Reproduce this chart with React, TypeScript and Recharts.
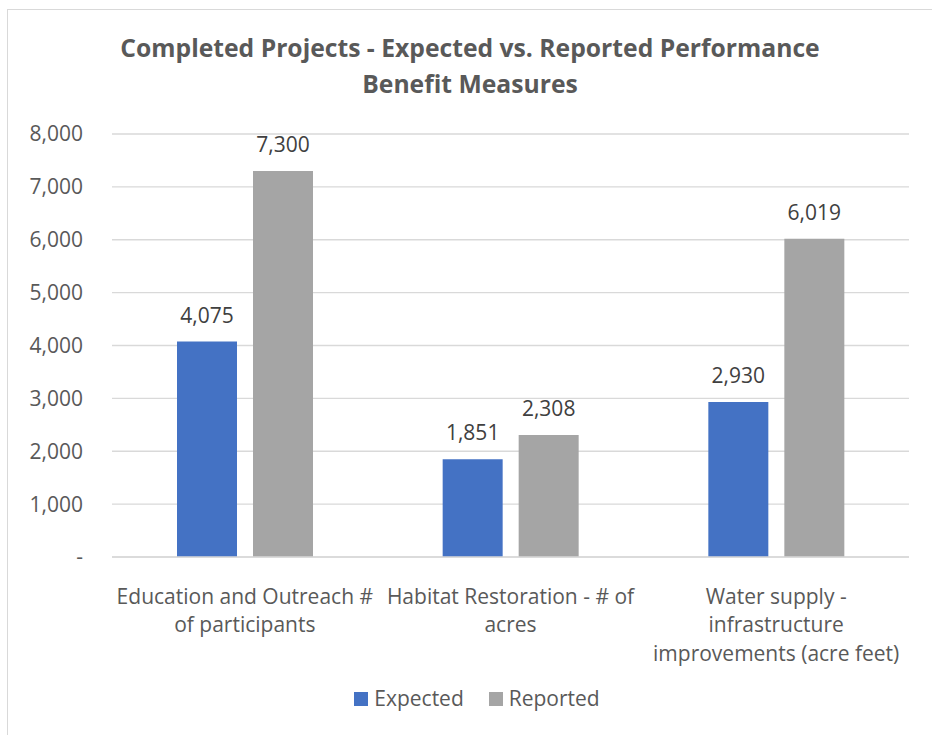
import React from "react";
import { Bar, BarChart, CartesianGrid, LabelList, Legend, XAxis, YAxis } from "recharts";

const categories = [
  "Education and Outreach #\nof participants",
  "Habitat Restoration - # of\nacres",
  "Water supply -\ninfrastructure\nimprovements (acre feet)",
];
const expected = [4075, 1851, 2930];
const reported = [7300, 2308, 6019];
const yTicks = [0, 1000, 2000, 3000, 4000, 5000, 6000, 7000, 8000];

const data = categories.map((name, i) => ({ name, expected: expected[i], reported: reported[i] }));

const FONT = "'Open Sans', 'Noto Sans', sans-serif";
const fmt = (v: number) => (v === 0 ? "-" : v.toLocaleString("en-US"));

function CategoryTick(props: any) {
  const { x, y, payload } = props;
  const lines = String(payload.value).split("\n");
  return (
    <g>
      {lines.map((line: string, i: number) => (
        <text key={i} x={x} y={y + 39 + i * 28.3} textAnchor="middle" fill="#595959" fontSize={21} fontFamily={FONT}>
          {line}
        </text>
      ))}
    </g>
  );
}

function LegendBox() {
  const items = [
    { label: "Expected", color: "#4472C4" },
    { label: "Reported", color: "#A5A5A5" },
  ];
  return (
    <div style={{ display: "flex", justifyContent: "center", gap: 25, fontFamily: FONT, fontSize: 21, color: "#595959", paddingLeft: 22 }}>
      {items.map((it) => (
        <div key={it.label} style={{ display: "flex", alignItems: "center", gap: 6 }}>
          <span style={{ width: 14, height: 14, marginTop: 2, background: it.color, display: "inline-block" }} />
          <span>{it.label}</span>
        </div>
      ))}
    </div>
  );
}

export default function App() {
  return (
    <div style={{ position: "absolute", left: 0, top: 0, width: 932, height: 735, overflow: "hidden", background: "#fff" }}>
      <div style={{ position: "absolute", left: 7, top: 9, width: 1000, height: 1000, border: "1.5px solid #D9D9D9" }} />
      <div
        style={{
          position: "absolute",
          left: 0,
          top: 30,
          width: 940,
          textAlign: "center",
          fontFamily: FONT,
          fontWeight: 700,
          fontSize: 24.7,
          lineHeight: "36px",
          color: "#595959",
        }}
      >
        Completed Projects - Expected vs. Reported Performance
        <br />
        Benefit Measures
      </div>
      <div style={{ position: "absolute", left: 0, top: 0 }}>
        <BarChart
          width={932}
          height={735}
          data={data}
          margin={{ top: 134, right: 23, left: 12, bottom: 58 }}
          barCategoryGap={65}
          barGap={16}
        >
          <CartesianGrid vertical={false} stroke="#D9D9D9" strokeWidth={1.3} />
          <XAxis
            dataKey="name"
            height={120}
            axisLine={{ stroke: "#D9D9D9", strokeWidth: 1.3 }}
            tickLine={false}
            tick={<CategoryTick />}
            interval={0}
          />
          <YAxis
            width={100}
            domain={[0, 8000]}
            ticks={yTicks}
            tickFormatter={fmt}
            axisLine={false}
            tickLine={false}
            tickSize={0}
            tickMargin={29}
            tick={{ fill: "#595959", fontSize: 21, fontFamily: FONT }}
          />
          <Legend
            layout="horizontal"
            verticalAlign="middle"
            align="center"
            wrapperStyle={{ top: 684, left: 0, width: 932 }}
            content={<LegendBox />}
          />
          <Bar dataKey="expected" name="Expected" fill="#4472C4" barSize={60} isAnimationActive={false}>
            <LabelList dataKey="expected" position="top" offset={19} formatter={(v: any) => fmt(Number(v))} fill="#404040" fontSize={21} fontFamily={FONT} />
          </Bar>
          <Bar dataKey="reported" name="Reported" fill="#A5A5A5" barSize={60} isAnimationActive={false}>
            <LabelList dataKey="reported" position="top" offset={19} formatter={(v: any) => fmt(Number(v))} fill="#404040" fontSize={21} fontFamily={FONT} />
          </Bar>
        </BarChart>
      </div>
    </div>
  );
}
